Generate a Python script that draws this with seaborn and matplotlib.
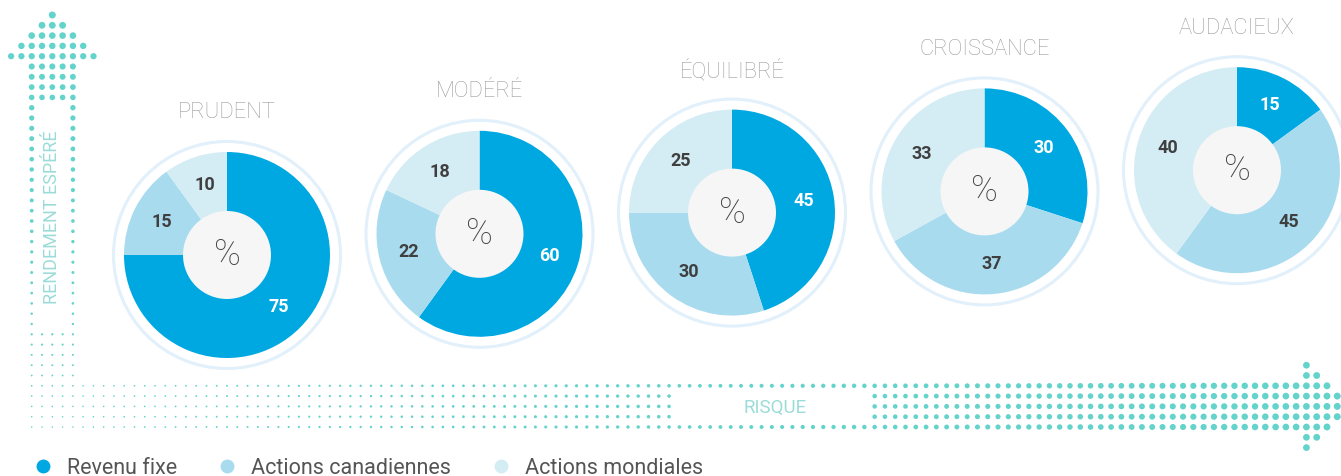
import numpy as np
import pandas as pd
import matplotlib.pyplot as plt
from matplotlib.lines import Line2D
import seaborn as sns

# data
profiles = ['PRUDENT', 'MODÉRÉ', 'ÉQUILIBRÉ', 'CROISSANCE', 'AUDACIEUX']
revenu_fixe = [75, 60, 45, 30, 15]
actions_can = [15, 22, 30, 37, 45]
actions_mond = [10, 18, 25, 33, 40]
series = ['Revenu fixe', 'Actions canadiennes', 'Actions mondiales']
axis_x = 'RISQUE'
axis_y = 'RENDEMENT ESPÉRÉ'

# style
colors = ['#00a8e1', '#a9dbef', '#d4ecf4']
teal = '#64d3cb'
teal_text = '#9bdcd8'
W, H = 1341, 476

sns.set_style('white')
plt.rcParams['font.family'] = ['Roboto', 'DejaVu Sans']

fig = plt.figure(figsize=(W / 100, H / 100), dpi=100)
ax = fig.add_axes([0, 0, 1, 1])

# ---- dotted arrows (decoration) ----
def dot_size(t):
    d = 1.5 + 5.5 * t ** 1.35   # diameter in px
    return (d * 0.72) ** 2

pts = []
sp = 10.3
cols_v = 31.7 + sp * np.arange(5)
# vertical shaft
for k in range(36):
    y = 427 - sp * k
    for i, x in enumerate(cols_v):
        if i in (1, 2, 3) and 105 < y < 328:
            continue
        pts.append((x, y, dot_size((427 - y) / 412)))
# vertical head
for m, w in enumerate([9, 7, 5, 3, 1], start=1):
    y = 427 - sp * 35 - sp * m
    for o in range(-(w // 2), w // 2 + 1):
        pts.append((cols_v[2] + sp * o, y, dot_size((427 - y) / 412)))
# horizontal shaft
sph = 10.28
rows_h = 427 - sp * np.arange(5)[::-1]
for k in range(5, 124):
    x = 31.7 + sph * k
    for j, y in enumerate(rows_h):
        if j in (1, 2, 3) and 672 < x < 872:
            continue
        pts.append((x, y, dot_size((x - 31.7) / 1316)))
# horizontal head
for m, w in enumerate([9, 7, 5, 3, 1], start=1):
    x = 31.7 + sph * 123 + sph * m
    for o in range(-(w // 2), w // 2 + 1):
        pts.append((x, rows_h[2] + sp * o, dot_size((x - 31.7) / 1316)))

dots = pd.DataFrame(pts, columns=['x', 'y', 'area'])
dots['y'] = H - dots['y']
amin, amax = dots['area'].min(), dots['area'].max()
sns.scatterplot(data=dots, x='x', y='y', size='area', sizes=(amin, amax),
                size_norm=(amin, amax), color=teal, edgecolor='none',
                linewidth=0, legend=False, ax=ax)

ax.text(775, H - 408, axis_x, color=teal_text, fontsize=13.5,
        ha='center', va='center')
ax.text(52, H - 217, axis_y, color=teal_text, fontsize=13,
        ha='center', va='center', rotation=90)

# ---- donuts ----
for n, name in enumerate(profiles):
    cx = 227 + 252.5 * n
    cy = H - (255 - 21.2 * n)
    vals = [revenu_fixe[n], actions_can[n], actions_mond[n]]
    ax.add_patch(plt.Circle((cx, cy), 113.5, fill=False, ec='#e1f0fa', lw=2.2))
    wedges, _, autotexts = ax.pie(
        vals, colors=colors, startangle=90, counterclock=False, radius=103,
        center=(cx, cy), autopct=lambda p: f'{p:.0f}', pctdistance=0.71,
        wedgeprops=dict(linewidth=0),
        textprops=dict(fontsize=13, fontweight='bold', color='#3f3f3f'),
        frame=False)
    autotexts[0].set_color('white')
    ax.add_patch(plt.Circle((cx, cy), 44, fc='#f6f6f6', ec='none', zorder=3))
    ax.text(cx, cy, '%', fontsize=26, color='#444444', ha='center',
            va='center', fontweight='light', zorder=4)
    ax.text(cx, cy + 142, name, fontsize=15.8, color='#9c9c9c', ha='center',
            va='center', fontweight='light')

# ---- legend ----
handles = [Line2D([], [], marker='o', ls='none', markersize=10,
                  markerfacecolor=c, markeredgecolor='none') for c in colors]
ax.legend(handles, series, loc='center left', bbox_to_anchor=(0.024, 8 / H),
          ncol=3, frameon=False, fontsize=15.5, handlelength=1,
          handletextpad=0.6, columnspacing=1.85, labelcolor='#555555',
          borderaxespad=0, borderpad=0)

ax.set_xlim(0, W)
ax.set_ylim(0, H)
ax.set_aspect('equal')
ax.axis('off')

fig.savefig('out.png', dpi=100)
